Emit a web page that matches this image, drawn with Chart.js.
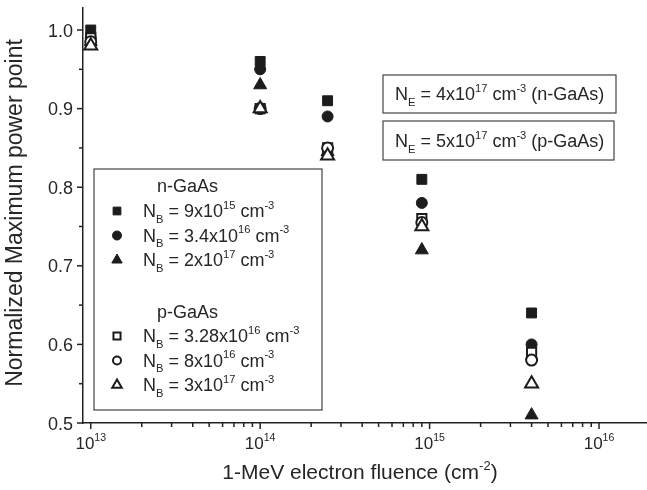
<!DOCTYPE html>
<html>
<head>
<meta charset="utf-8">
<script src="https://cdn.jsdelivr.net/npm/chart.js@4.4.0/dist/chart.umd.min.js"></script>
<style>
  html, body { margin: 0; padding: 0; background: #fff; }
  #wrap { width: 647px; height: 490px; }
</style>
</head>
<body>
<div id="wrap"><canvas id="myChart"></canvas></div>
<script>
// 1-MeV electron fluence (cm^-2)
const fluence = [1e13, 1e14, 2.5e14, 9e14, 4e15];

// n-GaAs, normalized max power point
const nSquare   = [1.00, 0.96, 0.91, 0.81, 0.64];
const nCircle   = [0.99, 0.95, 0.89, 0.78, 0.60];
const nTriangle = [0.985, 0.93, 0.845, 0.72, 0.51];

// p-GaAs
const pSquare   = [0.99, 0.90, 0.85, 0.76, 0.59];
const pCircle   = [0.985, 0.90, 0.85, 0.755, 0.58];
const pTriangle = [0.98, 0.90, 0.84, 0.75, 0.55];

// legend text: [mantissa, exponent]
const nLabels = [['9', '15'], ['3.4', '16'], ['2', '17']];
const pLabels = [['3.28', '16'], ['8', '16'], ['3', '17']];

// ticks
const yTicks = [0.5, 0.6, 0.7, 0.8, 0.9, 1.0];
const yMinor = [0.55, 0.65, 0.75, 0.85, 0.95];
const xExponents = [13, 14, 15, 16];

const FONT = '"Liberation Sans", Arial, sans-serif';
const INK = '#262626';
const MARK = '#1c1c1c';

function ds(label, data, style, filled, r, order) {
    return {
        label: label,
        order: order,
        data: fluence.map((f, i) => ({ x: f, y: data[i] })),
        pointStyle: style,
        pointRadius: r,
        pointHoverRadius: r,
        backgroundColor: filled ? MARK : '#ffffff',
        borderColor: MARK,
        borderWidth: filled ? 1 : 2,
        showLine: false
    };
}

// draws text with sub/superscripts, parts = [[text, mode]] mode 0 normal, 1 sup, -1 sub
function richText(ctx, x, y, parts, size, measureOnly) {
    let cx = x;
    parts.forEach(([t, m]) => {
        const fs = m ? size * 0.62 : size;
        ctx.font = fs + 'px ' + FONT;
        const dy = m === 1 ? -size * 0.45 : (m === -1 ? size * 0.32 : 0);
        if (!measureOnly) ctx.fillText(t, cx, y + dy);
        cx += ctx.measureText(t).width;
    });
    return cx - x;
}

function drawMarker(ctx, style, filled, r, x, y) {
    ctx.save();
    ctx.fillStyle = filled ? MARK : '#fff';
    ctx.strokeStyle = MARK;
    ctx.lineWidth = filled ? 1 : 2;
    Chart.helpers.drawPoint(ctx, { pointStyle: style, radius: r, borderWidth: ctx.lineWidth }, x, y);
    ctx.restore();
}

const overlay = {
    id: 'overlay',
    afterDraw(chart) {
        const ctx = chart.ctx;
        const xs = chart.scales.x, ys = chart.scales.y;
        const area = chart.chartArea;
        ctx.save();
        ctx.strokeStyle = '#222';
        ctx.lineWidth = 1.5;

        // x ticks (major + minor)
        xExponents.forEach(e => {
            for (let k = 1; k <= 9; k++) {
                const v = k * Math.pow(10, e);
                if (v > xs.max) continue;
                const px = xs.getPixelForValue(v);
                const len = k === 1 ? 6 : 4;
                ctx.beginPath();
                ctx.moveTo(px, area.bottom);
                ctx.lineTo(px, area.bottom + len);
                ctx.stroke();
            }
        });
        // y ticks
        yTicks.forEach(v => {
            const py = ys.getPixelForValue(v);
            ctx.beginPath(); ctx.moveTo(area.left, py); ctx.lineTo(area.left - 6, py); ctx.stroke();
        });
        yMinor.forEach(v => {
            const py = ys.getPixelForValue(v);
            ctx.beginPath(); ctx.moveTo(area.left, py); ctx.lineTo(area.left - 4, py); ctx.stroke();
        });

        ctx.fillStyle = INK;
        ctx.textBaseline = 'alphabetic';
        ctx.textAlign = 'left';

        // y tick labels
        ctx.font = '18px ' + FONT;
        yTicks.forEach(v => {
            const py = ys.getPixelForValue(v);
            ctx.textAlign = 'right';
            ctx.fillText(v.toFixed(1), area.left - 10, py + 6.5);
        });
        ctx.textAlign = 'left';

        // x tick labels 10^n
        xExponents.forEach(e => {
            const px = xs.getPixelForValue(Math.pow(10, e));
            const parts = [['10', 0], [String(e), 1]];
            const w = richText(ctx, 0, 0, parts, 17, true);
            richText(ctx, px - w / 2, area.bottom + 26, parts, 17);
        });

        // x title
        const xt = [['1-MeV electron fluence (cm', 0], ['-2', 1], [')', 0]];
        const xw = richText(ctx, 0, 0, xt, 21, true);
        richText(ctx, 360 - xw / 2, 479, xt, 21);

        // y title
        ctx.save();
        ctx.translate(22, 213);
        ctx.rotate(-Math.PI / 2);
        ctx.font = '23px ' + FONT;
        ctx.textAlign = 'center';
        ctx.fillText('Normalized Maximum power point', 0, 0);
        ctx.restore();

        // legend box
        ctx.strokeStyle = '#444';
        ctx.lineWidth = 1.2;
        ctx.strokeRect(94, 169, 228, 241);
        ctx.font = '18px ' + FONT;
        ctx.fillText('n-GaAs', 157, 192);
        const nStyles = [['rect', 5.5], ['circle', 4.5], ['triangle', 6]];
        nLabels.forEach((lab, i) => {
            const by = 217 + i * 24.5;
            drawMarker(ctx, nStyles[i][0], true, nStyles[i][1], 117, by - 6);
            ctx.fillStyle = INK;
            richText(ctx, 143, by, [['N', 0], ['B', -1], [' = ' + lab[0] + 'x10', 0], [lab[1], 1], [' cm', 0], ['-3', 1]], 18);
        });
        ctx.font = '18px ' + FONT;
        ctx.fillText('p-GaAs', 157, 318);
        pLabels.forEach((lab, i) => {
            const by = 342 + i * 24.5;
            drawMarker(ctx, nStyles[i][0], false, nStyles[i][1] - 0.5, 117, by - 6);
            ctx.fillStyle = INK;
            richText(ctx, 143, by, [['N', 0], ['B', -1], [' = ' + lab[0] + 'x10', 0], [lab[1], 1], [' cm', 0], ['-3', 1]], 18);
        });

        // emitter doping boxes
        ctx.strokeStyle = '#444';
        ctx.strokeRect(383, 75, 233, 38);
        ctx.strokeRect(383, 121, 231, 39);
        richText(ctx, 395, 100, [['N', 0], ['E', -1], [' = 4x10', 0], ['17', 1], [' cm', 0], ['-3', 1], [' (n-GaAs)', 0]], 18);
        richText(ctx, 395, 147, [['N', 0], ['E', -1], [' = 5x10', 0], ['17', 1], [' cm', 0], ['-3', 1], [' (p-GaAs)', 0]], 18);

        ctx.restore();
    }
};

const ctx = document.getElementById('myChart').getContext('2d');
const myChart = new Chart(ctx, {
    type: 'scatter',
    data: {
        datasets: [
            ds('n 9e15', nSquare, 'rect', true, 7, 6),
            ds('n 3.4e16', nCircle, 'circle', true, 5.5, 5),
            ds('n 2e17', nTriangle, 'triangle', true, 7.5, 4),
            ds('p 3.28e16', pSquare, 'rect', false, 6.5, 3),
            ds('p 8e16', pCircle, 'circle', false, 5.5, 2),
            ds('p 3e17', pTriangle, 'triangle', false, 7.5, 1)
        ]
    },
    options: {
        responsive: true,
        maintainAspectRatio: false,
        animation: false,
        layout: { autoPadding: false, padding: { top: 8, right: 0, left: 0, bottom: 0 } },
        plugins: {
            legend: { display: false },
            tooltip: { enabled: false }
        },
        scales: {
            x: {
                type: 'logarithmic',
                min: 9e12,
                max: 1.92e16,
                grid: { display: false },
                border: { display: true, color: '#222', width: 1.5 },
                ticks: { display: false },
                afterFit(s) { s.height = 67; }
            },
            y: {
                min: 0.5,
                max: 1.028,
                grid: { display: false },
                border: { display: true, color: '#222', width: 1.5 },
                ticks: { display: false },
                afterFit(s) { s.width = 83; }
            }
        }
    },
    plugins: [overlay]
});
</script>
</body>
</html>
